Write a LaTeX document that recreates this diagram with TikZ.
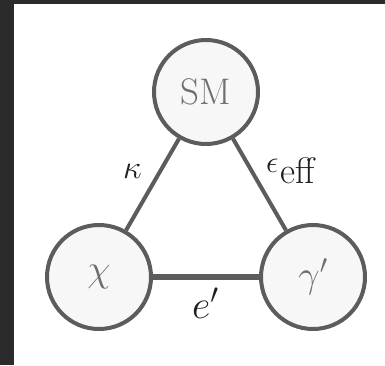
\RequirePackage{fix-cm}
\documentclass[tikz,border=0pt]{standalone}
\usepackage{amsmath}
\definecolor{bgdark}{HTML}{2B2B2B}
\definecolor{edgegray}{HTML}{5C5C5C}
\definecolor{fillgray}{HTML}{F7F7F7}
\definecolor{textgray}{HTML}{6E6E6E}
\definecolor{labelink}{HTML}{1E1E1E}
\begin{document}
\begin{tikzpicture}[x=1pt,y=-1pt,
  particle/.style={circle,draw=edgegray,fill=fillgray,line width=4pt,minimum size=104pt,inner sep=0pt,text=textgray,font=\fontsize{38}{44}\selectfont},
  link/.style={draw=edgegray,line width=4pt},
  coupling/.style={text=labelink,font=\fontsize{33}{38}\selectfont,inner sep=0pt}]
\useasboundingbox (0,0) rectangle (385,365);
\fill[bgdark] (0,0) rectangle (385,365);
\fill[white] (14,4) rectangle (385,365);
\node[particle,font=\fontsize{37}{44}\selectfont] (sm) at (206,92) {SM};
\node[particle] (chi) at (99,277) {$\chi$};
\node[particle] (gam) at (313,277) {$\gamma'$};
\draw[link] (sm) -- (chi);
\draw[link] (sm) -- (gam);
\draw[link,line width=5.5pt] (chi) -- (gam);
\node[coupling] (kap) at (132.5,171) {$\kappa$};
\node[coupling,anchor=base west,font=\fontsize{37}{44}\selectfont] (eps) at (266,183) {\raisebox{11pt}{\fontsize{31}{36}\selectfont$\epsilon$}\kern2pt eff};
\node[coupling,anchor=base west,font=\fontsize{40}{46}\selectfont] (ep) at (192,318) {$e'$};
\end{tikzpicture}
\end{document}
